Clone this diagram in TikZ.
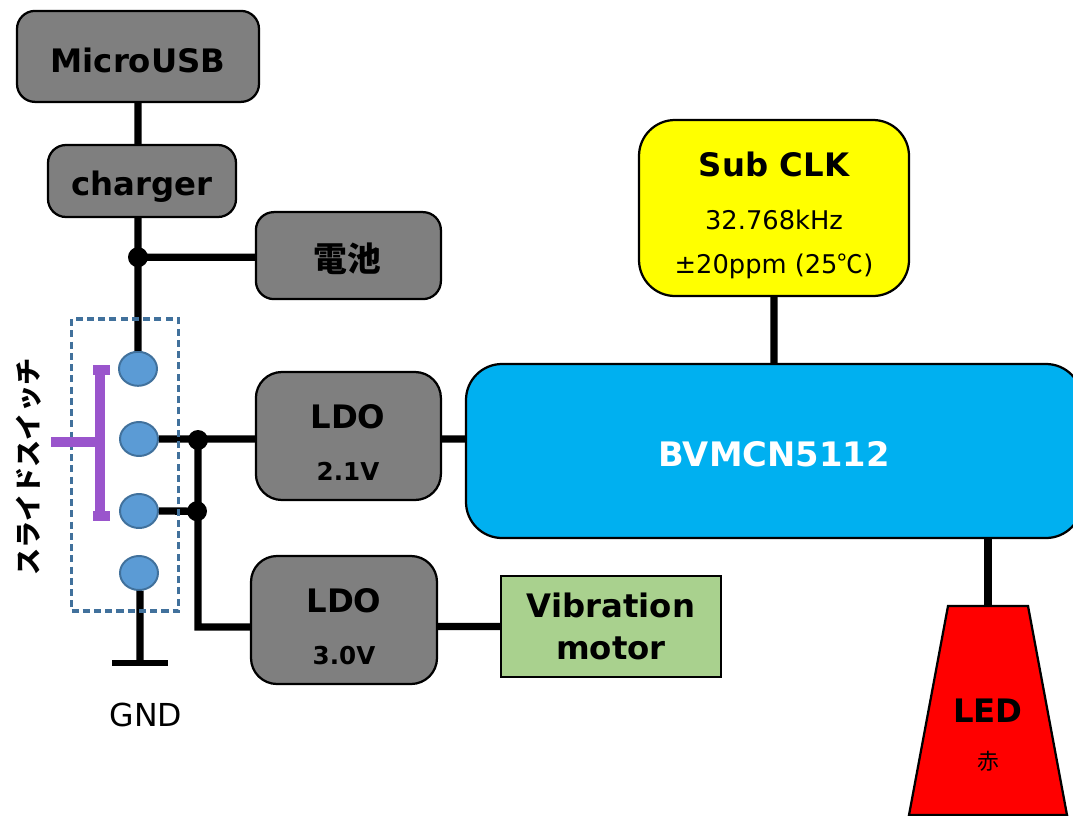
\documentclass[tikz,border=0pt]{standalone}
\usepackage{fontspec}
\setmainfont{DejaVu Sans}
\newfontfamily\cjk{Noto Sans CJK JP}
\usepackage{xcolor}
\usetikzlibrary{
    shapes.geometric,
    positioning
}
\definecolor{mcublue}{HTML}{00B0F0}
\definecolor{swblue}{HTML}{5B9BD5}
\definecolor{swedge}{HTML}{41719C}
\definecolor{motorgreen}{HTML}{A9D18E}
\definecolor{leverpurple}{HTML}{9A55CC}
\definecolor{blockgray}{HTML}{7F7F7F}
\definecolor{clkyellow}{HTML}{FFFF00}
\definecolor{ledred}{HTML}{FF0000}
\tikzset{blockb/.style={draw=black, line width=1.6pt, fill=blockgray, rounded corners=0.45cm, inner sep=0pt}}
\tikzset{wireb/.style={line width=5.2pt}}
\tikzset{dotb/.style={inner sep=0pt, minimum size=0.5cm, circle, fill=black}}
\tikzset{swb/.style={ellipse, inner sep=0pt, minimum width=0.95cm, minimum height=0.85cm, draw=swedge, line width=1.4pt, fill=swblue}}
\tikzset{titleb/.style={font=\fontsize{23}{26}\bfseries\selectfont}}
\tikzset{subb/.style={font=\fontsize{17.5}{20}\bfseries\selectfont}}
\tikzset{clkb/.style={font=\fontsize{18.3}{21}\selectfont}}

\begin{document}
\begin{tikzpicture}
    \useasboundingbox (0, 0) rectangle (26.825, -20.375);

    \node[blockb, minimum width=6.05cm, minimum height=2.275cm] (microusb) at (3.45, -1.41) {};
    \node[blockb, minimum width=4.7cm, minimum height=1.8cm] (charger) at (3.55, -4.525) {};
    \node[blockb, minimum width=4.625cm, minimum height=2.175cm] (battery) at (8.71, -6.39) {};
    \node[blockb, rounded corners=0.65cm, minimum width=4.625cm, minimum height=3.2cm] (ldoa) at (8.71, -10.9) {};
    \node[blockb, rounded corners=0.65cm, minimum width=4.65cm, minimum height=3.2cm] (ldob) at (8.6, -15.5) {};
    \node[draw=black, line width=1.6pt, fill=motorgreen, minimum width=5.5cm, minimum height=2.525cm, align=center, font=\fontsize{23}{30}\bfseries\selectfont] (motor) at (15.275, -15.66) {Vibration\\motor};
    \node[blockb, fill=mcublue, rounded corners=0.9cm, minimum width=15.4cm, minimum height=4.35cm] (mcu) at (19.35, -11.275) {};
    \node[blockb, fill=clkyellow, rounded corners=0.9cm, minimum width=6.75cm, minimum height=4.4cm] (subclk) at (19.35, -5.2) {};

    \coordinate (ledtop) at (24.7, -15.15);
    \draw[line width=1.6pt, fill=ledred] (23.7, -15.15) -- (25.7, -15.15) -- (26.675, -20.375) -- (22.725, -20.375) -- cycle;

    \node[dotb] (dotbat) at (3.45, -6.43) {};
    \node[dotb] (dotldoa) at (4.95, -11) {};
    \node[dotb] (dotldob) at (4.925, -12.78) {};

    \node[swb] (swa) at (3.45, -9.22) {};
    \node[swb] (swb) at (3.475, -10.975) {};
    \node[swb] (swc) at (3.475, -12.775) {};
    \node[swb] (swd) at (3.475, -14.325) {};

    \coordinate (ldobin) at (6.275, -15.675);
    \coordinate (gnd) at (3.5, -16.575);
    \coordinate (gndl) at (2.8, -16.575);
    \coordinate (gndr) at (4.2, -16.575);

    \draw[wireb]
    (microusb.south) -- (microusb.south |- charger.north)
    (microusb.south |- charger.south) -- (dotbat.center)
    (dotbat.center) -- (swa.north)
    (dotbat.center) -- (dotbat.center -| battery.west)
    (swb.east) -- (swb.east -| ldoa.west)
    (swc.east) -- (dotldob.center)
    (dotldoa.center |- swb.east) -- (dotldoa.center |- swc.east)
    (dotldoa.center |- swc.east) |- (ldobin)
    (ldob.east |- motor.west) -- (motor.west)
    (ldoa.east |- swb) -- (mcu.west |- swb)
    (subclk.south) -- (mcu.north)
    (swd.south -| gnd) -- (gnd);
    \draw[line width=4.5pt] (gndl) -- (gndr);
    \draw[wireb] (ledtop |- mcu.south) -- (ledtop);

    \node[draw=swedge, dash pattern=on 5pt off 3pt, line width=2.4pt, minimum width=2.675cm, minimum height=7.3cm, inner sep=0pt] (swbox) at (3.125, -11.625) {};

    \draw[line width=0.25cm, leverpurple]
    (2.325, -9.24) -- (2.75, -9.24)
    (2.5, -9.13) -- (2.5, -13)
    (2.325, -12.89) -- (2.75, -12.89)
    (1.275, -11.05) -- (2.5, -11.05);

    \node[titleb] (microusbtitle) at (3.45, -1.52) {MicroUSB};
    \node[titleb] (chargertitle) at (3.55, -4.675) {charger};
    \node[font=\fontsize{24}{27}\bfseries\selectfont\cjk] (batterytitle) at (8.68, -6.465) {電池};
    \node[font=\fontsize{24}{27}\bfseries\selectfont, text=white] (mcutitle) at (19.35, -11.35) {BVMCN5112};
    \node[titleb] (ldoatitle) at (8.7, -10.42) {LDO};
    \node[subb] (ldoasub) at (8.7, -11.78) {2.1V};
    \node[titleb] (ldobtitle) at (8.6, -15.02) {LDO};
    \node[subb] (ldobsub) at (8.6, -16.38) {3.0V};
    \node[titleb] (clktitle) at (19.35, -4.12) {Sub CLK};
    \node[clkb] (clkfreq) at (19.35, -5.49) {32.768kHz};
    \node[clkb] (clkppm) at (19.35, -6.65) {±20ppm (25{\cjk ℃})};
    \node[titleb] (ledtitle) at (24.7, -17.76) {LED};
    \node[font=\fontsize{15.5}{18}\selectfont\cjk] (ledsub) at (24.7, -19.03) {赤};
    \node[font=\fontsize{22.5}{25}\selectfont] (gndlabel) at (3.65, -17.87) {GND};
    \node[rotate=90, font=\fontsize{19.3}{22}\bfseries\selectfont\cjk] (swlabel) at (0.72, -11.68) {スライドスイッチ};
\end{tikzpicture}
\end{document}
